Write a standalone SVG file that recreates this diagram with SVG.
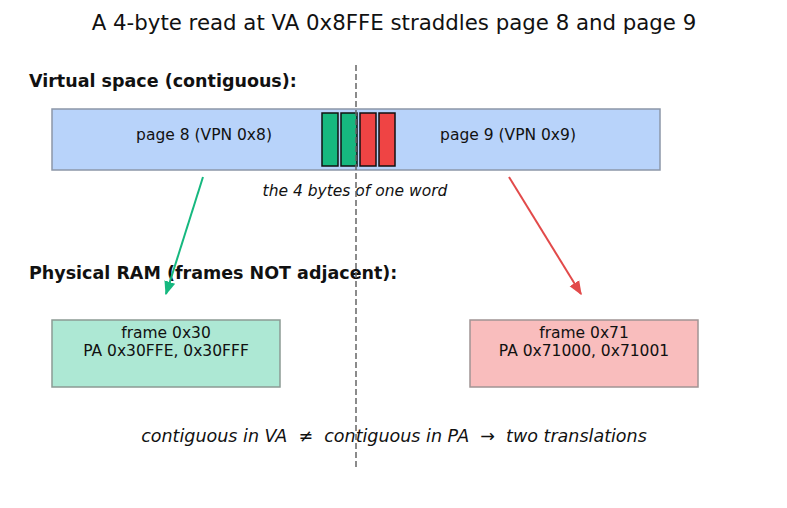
<svg xmlns="http://www.w3.org/2000/svg" width="787" height="508" viewBox="0 0 787 508">
<style>
text{font-family:"DejaVu Sans",sans-serif;fill:#111}
.sec{font-weight:bold;font-size:17.5px}
.lbl{font-size:15.5px;text-anchor:middle}
.page{fill:#b8d3fa;stroke:#8c97a8;stroke-width:1.5}
.byte{stroke:#111;stroke-width:1.5}
.g{fill:#16b87f}
.r{fill:#ef4444}
</style>
<defs>
<marker id="ag" viewBox="0 0 10 10" refX="9" refY="5" markerWidth="7" markerHeight="7" orient="auto"><path d="M0,1L10,5L0,9z" fill="#16b87f"/></marker>
<marker id="ar" viewBox="0 0 10 10" refX="9" refY="5" markerWidth="7" markerHeight="7" orient="auto"><path d="M0,1L10,5L0,9z" fill="#e24a4a"/></marker>
</defs>
<rect width="787" height="508" fill="#fff"/>
<text x="394" y="30" text-anchor="middle" style="font-size:21.3px">A 4-byte read at VA 0x8FFE straddles page 8 and page 9</text>
<text x="29" y="87" class="sec">Virtual space (contiguous):</text>
<text x="29" y="279" class="sec">Physical RAM (frames NOT adjacent):</text>
<g id="vspace">
<rect x="52" y="109" width="608" height="61" class="page"/>
<text x="204" y="140" class="lbl">page 8 (VPN 0x8)</text>
<text x="508" y="140" class="lbl">page 9 (VPN 0x9)</text>
</g>
<g id="bytes">
<rect x="322" y="113" width="16" height="53" class="byte g"/>
<rect x="341" y="113" width="16" height="53" class="byte g"/>
<rect x="360" y="113" width="16" height="53" class="byte r"/>
<rect x="379" y="113" width="16" height="53" class="byte r"/>
</g>
<text x="355" y="196" class="lbl" font-style="italic">the 4 bytes of one word</text>
<g id="frame30">
<rect x="52" y="320" width="228" height="67" fill="#ade8d4" stroke="#8c9a94" stroke-width="1.5"/>
<text x="166" y="338" class="lbl">frame 0x30</text>
<text x="166" y="356" class="lbl">PA 0x30FFE, 0x30FFF</text>
</g>
<g id="frame71">
<rect x="470" y="320" width="228" height="67" fill="#f9bdbd" stroke="#a09494" stroke-width="1.5"/>
<text x="584" y="338" class="lbl">frame 0x71</text>
<text x="584" y="356" class="lbl">PA 0x71000, 0x71001</text>
</g>
<g id="connectors">
<line x1="356" y1="65" x2="356" y2="470" stroke="#666" stroke-width="1.5" stroke-dasharray="6,3"/>
<line x1="203" y1="177" x2="166" y2="294" stroke="#16b87f" stroke-width="2" marker-end="url(#ag)"/>
<line x1="509" y1="177" x2="581" y2="294" stroke="#e24a4a" stroke-width="2" marker-end="url(#ar)"/>
</g>
<text x="394" y="442" text-anchor="middle" font-style="italic" style="font-size:17.5px;white-space:pre" xml:space="preserve">contiguous in VA  ≠  contiguous in PA  →  two translations</text>
</svg>
